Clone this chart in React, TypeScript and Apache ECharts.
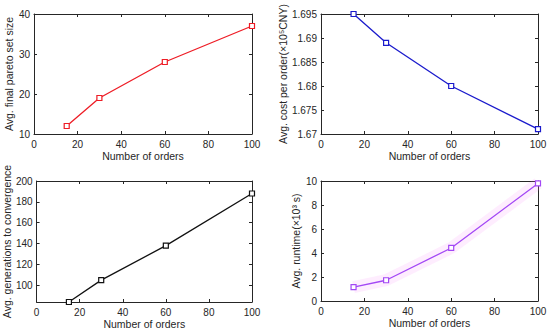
import React, { useEffect, useRef } from "react";
import * as echarts from "echarts";

const orders = [15, 30, 60, 100];
const paretoSize = [12, 19, 28, 37];
const costPerOrder = [1.695, 1.689, 1.68, 1.671];
const generations = [84, 105, 138, 188];
const runtime = [1.15, 1.73, 4.42, 9.8];

const xTicks = [0, 20, 40, 60, 80, 100];
const paretoTicks = [10, 20, 30, 40];
const costTicks = [1.67, 1.675, 1.68, 1.685, 1.69, 1.695];
const genTicks = [100, 120, 140, 160, 180, 200];
const runtimeTicks = [0, 2, 4, 6, 8, 10];

const TXT = "#262626";
const FONT = "'Liberation Sans', Arial, Helvetica, sans-serif";

export default function App() {
  const ref = useRef<HTMLDivElement>(null);
  useEffect(() => {
    document.body.style.margin = "0";
    const chart = echarts.init(ref.current!, null, { renderer: "svg" });

    const grids = [
      { left: 34, top: 14, width: 218, height: 120 },
      { left: 321, top: 14, width: 217, height: 120 },
      { left: 34, top: 181, width: 218, height: 121 },
      { left: 321, top: 181, width: 217, height: 120 },
    ];

    const panels = [
      { name: "Avg. final pareto set size", min: 10, max: 40, ticks: paretoTicks, data: paretoSize, color: "#ee1c25", gap: 17, glow: false },
      { name: "Avg. cost per order(×10⁵CNY)", min: 1.67, max: 1.695, ticks: costTicks, data: costPerOrder, color: "#1a1acc", gap: 31, glow: false },
      { name: "Avg. generations to convergence", min: 84, max: 200, ticks: genTicks, data: generations, color: "#111111", gap: 20, glow: false },
      { name: "Avg. runtime(×10³ s)", min: 0, max: 10, ticks: runtimeTicks, data: runtime, color: "#a347f5", gap: 15, glow: true },
    ];

    const xAxis: any[] = [];
    const yAxis: any[] = [];
    const series: any[] = [];

    panels.forEach((p, i) => {
      const axisLine = { show: true, onZero: false, lineStyle: { color: TXT, width: 1 } };
      const tickIn = { show: true, inside: true, length: 3, lineStyle: { color: TXT } };
      xAxis.push({
        type: "value", gridIndex: i, min: 0, max: 100, position: "bottom",
        axisLine, splitLine: { show: false },
        axisTick: { ...tickIn, customValues: xTicks },
        axisLabel: { customValues: xTicks, color: TXT, fontSize: 10, fontFamily: FONT, margin: 5 },
        name: "Number of orders", nameLocation: "middle", nameGap: 16,
        nameTextStyle: { color: TXT, fontSize: 10.5, fontFamily: FONT },
      });
      xAxis.push({
        type: "value", gridIndex: i, min: 0, max: 100, position: "top",
        axisLine, splitLine: { show: false },
        axisTick: { ...tickIn, customValues: xTicks },
        axisLabel: { show: false },
      });
      yAxis.push({
        type: "value", gridIndex: i, min: p.min, max: p.max, position: "left",
        axisLine, splitLine: { show: false },
        axisTick: { ...tickIn, customValues: p.ticks },
        axisLabel: { customValues: p.ticks, color: TXT, fontSize: 10, fontFamily: FONT, margin: 4 },
        name: p.name, nameLocation: "middle", nameGap: p.gap,
        nameTextStyle: { color: TXT, fontSize: 10.5, fontFamily: FONT },
      });
      yAxis.push({
        type: "value", gridIndex: i, min: p.min, max: p.max, position: "right",
        axisLine, splitLine: { show: false },
        axisTick: { ...tickIn, customValues: p.ticks },
        axisLabel: { show: false },
      });
      const pts = orders.map((x, k) => [x, p.data[k]]);
      if (p.glow) {
        series.push({
          type: "line",
          xAxisIndex: i * 2,
          yAxisIndex: i * 2,
          data: pts,
          showSymbol: false,
          silent: true,
          clip: false,
          z: 1,
          lineStyle: { color: "rgba(250,140,250,0.16)", width: 12 },
        });
      }
      series.push({
        type: "line",
        xAxisIndex: i * 2,
        yAxisIndex: i * 2,
        data: pts,
        symbol: "rect",
        symbolSize: 5,
        showSymbol: true,
        clip: false,
        z: 2,
        itemStyle: { color: "#ffffff", borderColor: p.color, borderWidth: 1.2 },
        lineStyle: { color: p.color, width: 1.3 },
      });
    });

    chart.setOption({
      animation: false,
      backgroundColor: "#ffffff",
      grid: grids,
      xAxis,
      yAxis,
      series,
    });
    return () => chart.dispose();
  }, []);
  return <div ref={ref} style={{ width: 550, height: 335 }} />;
}
